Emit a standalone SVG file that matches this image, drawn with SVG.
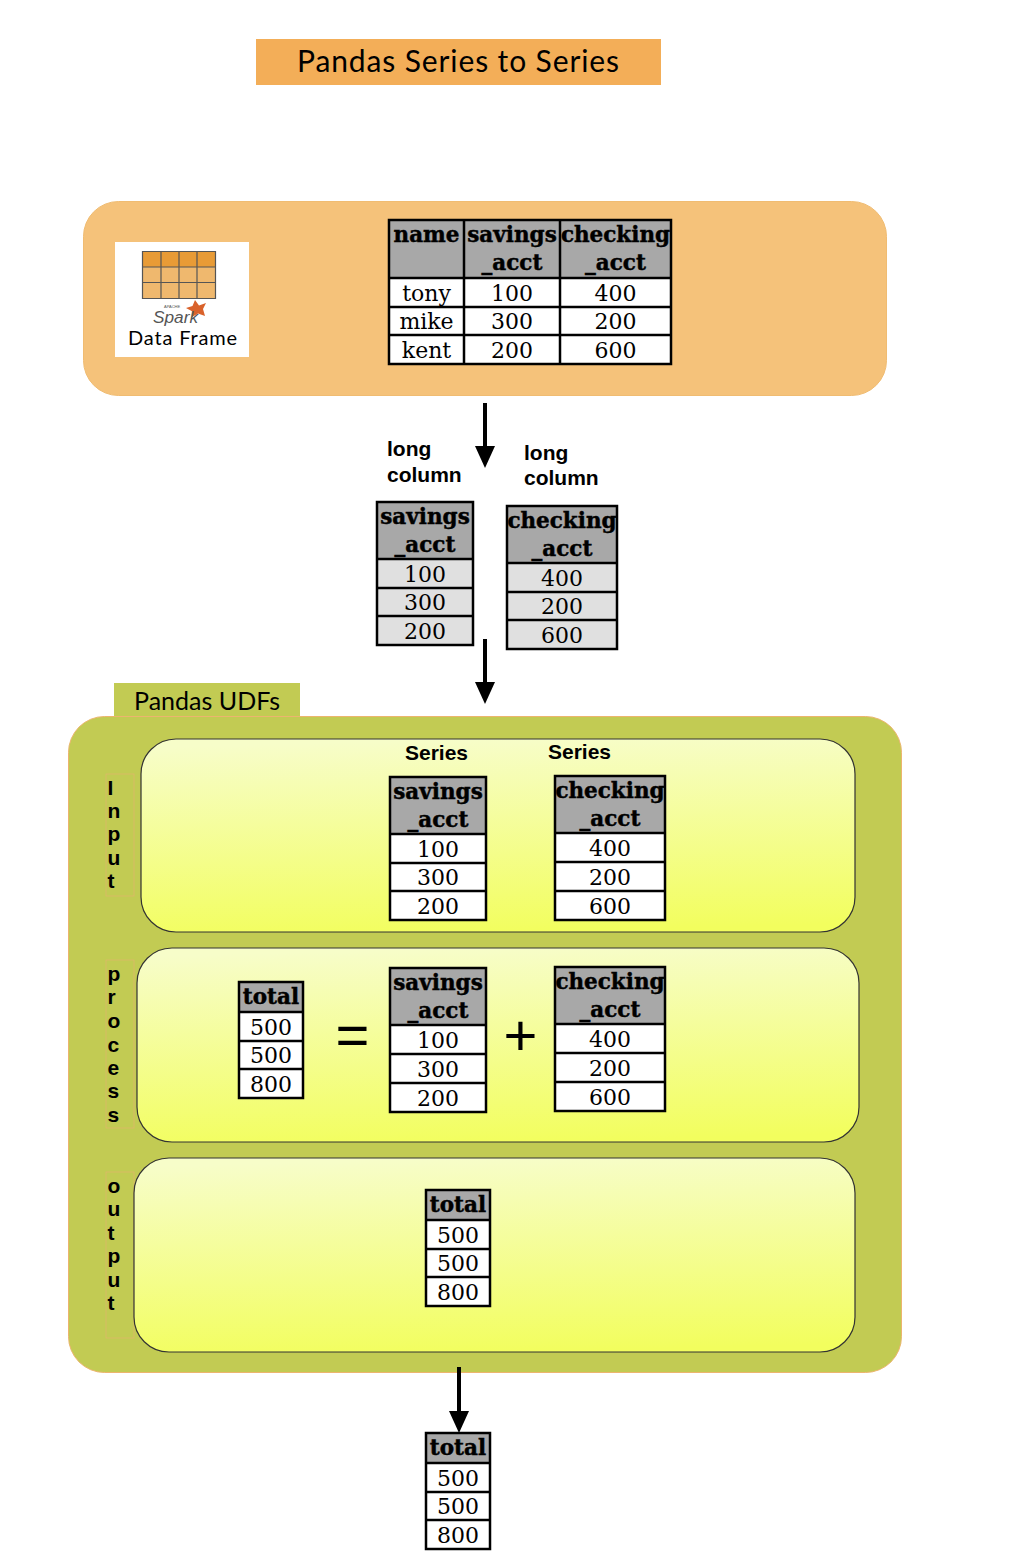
<svg xmlns="http://www.w3.org/2000/svg" width="1028" height="1564" viewBox="0 0 1028 1564">
<style>
.hd{font:bold 21.5px "DejaVu Serif",serif;fill:#000;stroke:#000;stroke-width:.45;text-anchor:middle}
.td{font:22px "DejaVu Serif",serif;fill:#000;text-anchor:middle}
.cm{font-family:Lato,"Open Sans",sans-serif;fill:#000}
.lb{font:bold 21px "Liberation Sans",Arial,sans-serif;fill:#000}
.vl{font:bold 21px "Liberation Sans",Arial,sans-serif;fill:#000}
.op{font:58px "Liberation Sans",Arial,sans-serif;fill:#000;text-anchor:middle}
.out{fill:none;stroke:#000;stroke-width:2.5}
.ln{stroke:#000;stroke-width:2.5}
.hf{fill:#a8a8a8}
.bw{fill:#fff}
.bg{fill:#e0e0e0}
.pn{fill:url(#yg);stroke:#333;stroke-width:1.2}
.sd{fill:none;stroke:#e3b56c;stroke-width:.7}
.cn{stroke:#000;stroke-width:4;fill:none;marker-end:url(#ah)}
</style>
<defs>
<linearGradient id="yg" x1="0.45" y1="0" x2="0.55" y2="1"><stop offset="0" stop-color="#f7fdc9"/><stop offset="1" stop-color="#f2fe5e"/></linearGradient>
<marker id="ah" markerUnits="userSpaceOnUse" markerWidth="22" markerHeight="20" refX="0" refY="10" orient="auto"><path d="M0 0L22 10L0 20Z" fill="#000"/></marker>
</defs>
<g id="title"><rect x="256" y="39" width="405" height="46" fill="#f3ae58"/><text class="cm" x="297" y="71.5" font-size="30" textLength="322" lengthAdjust="spacing">Pandas Series to Series</text></g>

<g id="dataframe-panel"><rect x="83.5" y="201.5" width="803" height="194" rx="35" fill="#f5c27a" stroke="#f0bc72"/>
<g id="spark-logo"><rect x="115" y="242" width="134" height="115" fill="#fff"/>
<rect x="142.5" y="251.5" width="73" height="16" fill="#e89b36"/><rect x="142.5" y="267" width="73" height="31.5" fill="#efb86e"/>
<path d="M142.5 251.5H215.5V298.5H142.5ZM142.5 267H215.5M142.5 282.5H215.5M161 251.5V298.5M179 251.5V298.5M197 251.5V298.5" fill="none" stroke="#555" stroke-width="1.2"/>
<path d="M195 300L199 305.500L206 303L203 309L205 316L198 313.500L192 317L192.500 311.500L186 308L192.500 306Z" fill="#d9622b"/>
<text x="164" y="308" font-family="Liberation Sans,sans-serif" font-size="4" fill="#555">APACHE</text>
<text x="153" y="323" font-family="Liberation Sans,sans-serif" font-size="16" font-style="italic" fill="#555" textLength="45" lengthAdjust="spacingAndGlyphs">Spark</text>
<text class="cm" x="128" y="345" font-size="20" textLength="109" lengthAdjust="spacing">Data Frame</text></g>
<g id="table-main"><rect class="hf" x="389" y="220" width="282" height="58"/><rect class="bw" x="389" y="278" width="282" height="86"/>
<path class="ln" d="M389 278H671M389 307H671M389 335H671M464 220V364M560 220V364"/><rect class="out" x="389" y="220" width="282" height="144"/>
<text class="hd" x="426.500" y="242">name</text><text class="hd" x="512" y="242">savings</text><text class="hd" x="512" y="270">_acct</text><text class="hd" x="615.500" y="242">checking</text><text class="hd" x="615.500" y="270">_acct</text>
<text class="td" x="426.500" y="301">tony</text><text class="td" x="512" y="301">100</text><text class="td" x="615.500" y="301">400</text>
<text class="td" x="426.500" y="329">mike</text><text class="td" x="512" y="329">300</text><text class="td" x="615.500" y="329">200</text>
<text class="td" x="426.500" y="358">kent</text><text class="td" x="512" y="358">200</text><text class="td" x="615.500" y="358">600</text></g></g>

<g id="long-labels"><text class="lb" x="387" y="456">long</text><text class="lb" x="387" y="482">column</text><text class="lb" x="524" y="460">long</text><text class="lb" x="524" y="485">column</text></g>

<g id="table-long-savings"><rect class="hf" x="377" y="502" width="96" height="57"/><rect class="bg" x="377" y="559" width="96" height="86"/>
<path class="ln" d="M377 559H473M377 588H473M377 616H473"/><rect class="out" x="377" y="502" width="96" height="143"/>
<text class="hd" x="425" y="524">savings</text><text class="hd" x="425" y="552">_acct</text><text class="td" x="425" y="582">100</text><text class="td" x="425" y="610">300</text><text class="td" x="425" y="639">200</text></g>

<g id="table-long-checking"><rect class="hf" x="507" y="506" width="110" height="57"/><rect class="bg" x="507" y="563" width="110" height="86"/>
<path class="ln" d="M507 563H617M507 592H617M507 620H617"/><rect class="out" x="507" y="506" width="110" height="143"/>
<text class="hd" x="562" y="528">checking</text><text class="hd" x="562" y="556">_acct</text><text class="td" x="562" y="586">400</text><text class="td" x="562" y="614">200</text><text class="td" x="562" y="643">600</text></g>

<g id="udf-container"><rect x="114" y="683" width="186" height="40" fill="#c2cb53"/><rect x="68.500" y="716.500" width="833" height="656" rx="36" fill="#c2cb53" stroke="#ecb56e"/>
<text class="cm" x="134" y="710" font-size="25" textLength="146" lengthAdjust="spacing">Pandas UDFs</text></g>

<g id="input-panel"><rect class="sd" x="106" y="774" width="28" height="122"/><rect class="pn" x="141" y="739" width="714" height="193" rx="35"/>
<text class="vl" x="107.500" y="795">I</text><text class="vl" x="107.500" y="818">n</text><text class="vl" x="107.500" y="841">p</text><text class="vl" x="107.500" y="865">u</text><text class="vl" x="107.500" y="888">t</text>
<text class="lb" x="405" y="760">Series</text><text class="lb" x="548" y="759">Series</text>
<g id="table-in-savings"><rect class="hf" x="390" y="777" width="96" height="57"/><rect class="bw" x="390" y="834" width="96" height="86"/>
<path class="ln" d="M390 834H486M390 863H486M390 891H486"/><rect class="out" x="390" y="777" width="96" height="143"/>
<text class="hd" x="438" y="799">savings</text><text class="hd" x="438" y="827">_acct</text><text class="td" x="438" y="857">100</text><text class="td" x="438" y="885">300</text><text class="td" x="438" y="914">200</text></g>
<g id="table-in-checking"><rect class="hf" x="555" y="776" width="110" height="57"/><rect class="bw" x="555" y="833" width="110" height="87"/>
<path class="ln" d="M555 833H665M555 862H665M555 891H665"/><rect class="out" x="555" y="776" width="110" height="144"/>
<text class="hd" x="610" y="798">checking</text><text class="hd" x="610" y="826">_acct</text><text class="td" x="610" y="856">400</text><text class="td" x="610" y="885">200</text><text class="td" x="610" y="914">600</text></g></g>

<g id="process-panel"><rect class="sd" x="106" y="960" width="28" height="168"/><rect class="pn" x="137" y="948" width="722" height="194" rx="35"/>
<text class="vl" x="107.500" y="981">p</text><text class="vl" x="107.500" y="1004">r</text><text class="vl" x="107.500" y="1028">o</text><text class="vl" x="107.500" y="1052">c</text><text class="vl" x="107.500" y="1075">e</text><text class="vl" x="107.500" y="1098">s</text><text class="vl" x="107.500" y="1122">s</text>
<g id="table-pr-total"><rect class="hf" x="239" y="982" width="64" height="30"/><rect class="bw" x="239" y="1012" width="64" height="86"/>
<path class="ln" d="M239 1012H303M239 1041H303M239 1069H303"/><rect class="out" x="239" y="982" width="64" height="116"/>
<text class="hd" x="271" y="1004">total</text><text class="td" x="271" y="1035">500</text><text class="td" x="271" y="1063">500</text><text class="td" x="271" y="1092">800</text></g>
<text class="op" x="352.500" y="1055">=</text><text class="op" x="520.500" y="1055">+</text>
<g id="table-pr-savings"><rect class="hf" x="390" y="968" width="96" height="57"/><rect class="bw" x="390" y="1025" width="96" height="87"/>
<path class="ln" d="M390 1025H486M390 1054H486M390 1083H486"/><rect class="out" x="390" y="968" width="96" height="144"/>
<text class="hd" x="438" y="990">savings</text><text class="hd" x="438" y="1018">_acct</text><text class="td" x="438" y="1048">100</text><text class="td" x="438" y="1077">300</text><text class="td" x="438" y="1106">200</text></g>
<g id="table-pr-checking"><rect class="hf" x="555" y="967" width="110" height="57"/><rect class="bw" x="555" y="1024" width="110" height="87"/>
<path class="ln" d="M555 1024H665M555 1053H665M555 1082H665"/><rect class="out" x="555" y="967" width="110" height="144"/>
<text class="hd" x="610" y="989">checking</text><text class="hd" x="610" y="1017">_acct</text><text class="td" x="610" y="1047">400</text><text class="td" x="610" y="1076">200</text><text class="td" x="610" y="1105">600</text></g></g>

<g id="output-panel"><rect class="sd" x="106" y="1172" width="28" height="166"/><rect class="pn" x="134" y="1158" width="721" height="194" rx="35"/>
<text class="vl" x="107.500" y="1193">o</text><text class="vl" x="107.500" y="1216">u</text><text class="vl" x="107.500" y="1240">t</text><text class="vl" x="107.500" y="1263">p</text><text class="vl" x="107.500" y="1287">u</text><text class="vl" x="107.500" y="1310">t</text>
<g id="table-out-total"><rect class="hf" x="426" y="1190" width="64" height="30"/><rect class="bw" x="426" y="1220" width="64" height="86"/>
<path class="ln" d="M426 1220H490M426 1249H490M426 1277H490"/><rect class="out" x="426" y="1190" width="64" height="116"/>
<text class="hd" x="458" y="1212">total</text><text class="td" x="458" y="1243">500</text><text class="td" x="458" y="1271">500</text><text class="td" x="458" y="1300">800</text></g></g>

<g id="table-final-total"><rect class="hf" x="426" y="1433" width="64" height="30"/><rect class="bw" x="426" y="1463" width="64" height="86"/>
<path class="ln" d="M426 1463H490M426 1492H490M426 1520H490"/><rect class="out" x="426" y="1433" width="64" height="116"/>
<text class="hd" x="458" y="1455">total</text><text class="td" x="458" y="1486">500</text><text class="td" x="458" y="1514">500</text><text class="td" x="458" y="1543">800</text></g>

<g id="connectors">
<path class="cn" d="M485 403V446"/>
<path class="cn" d="M485 639V682"/>
<path class="cn" d="M459 1367V1411"/>
</g>
</svg>
